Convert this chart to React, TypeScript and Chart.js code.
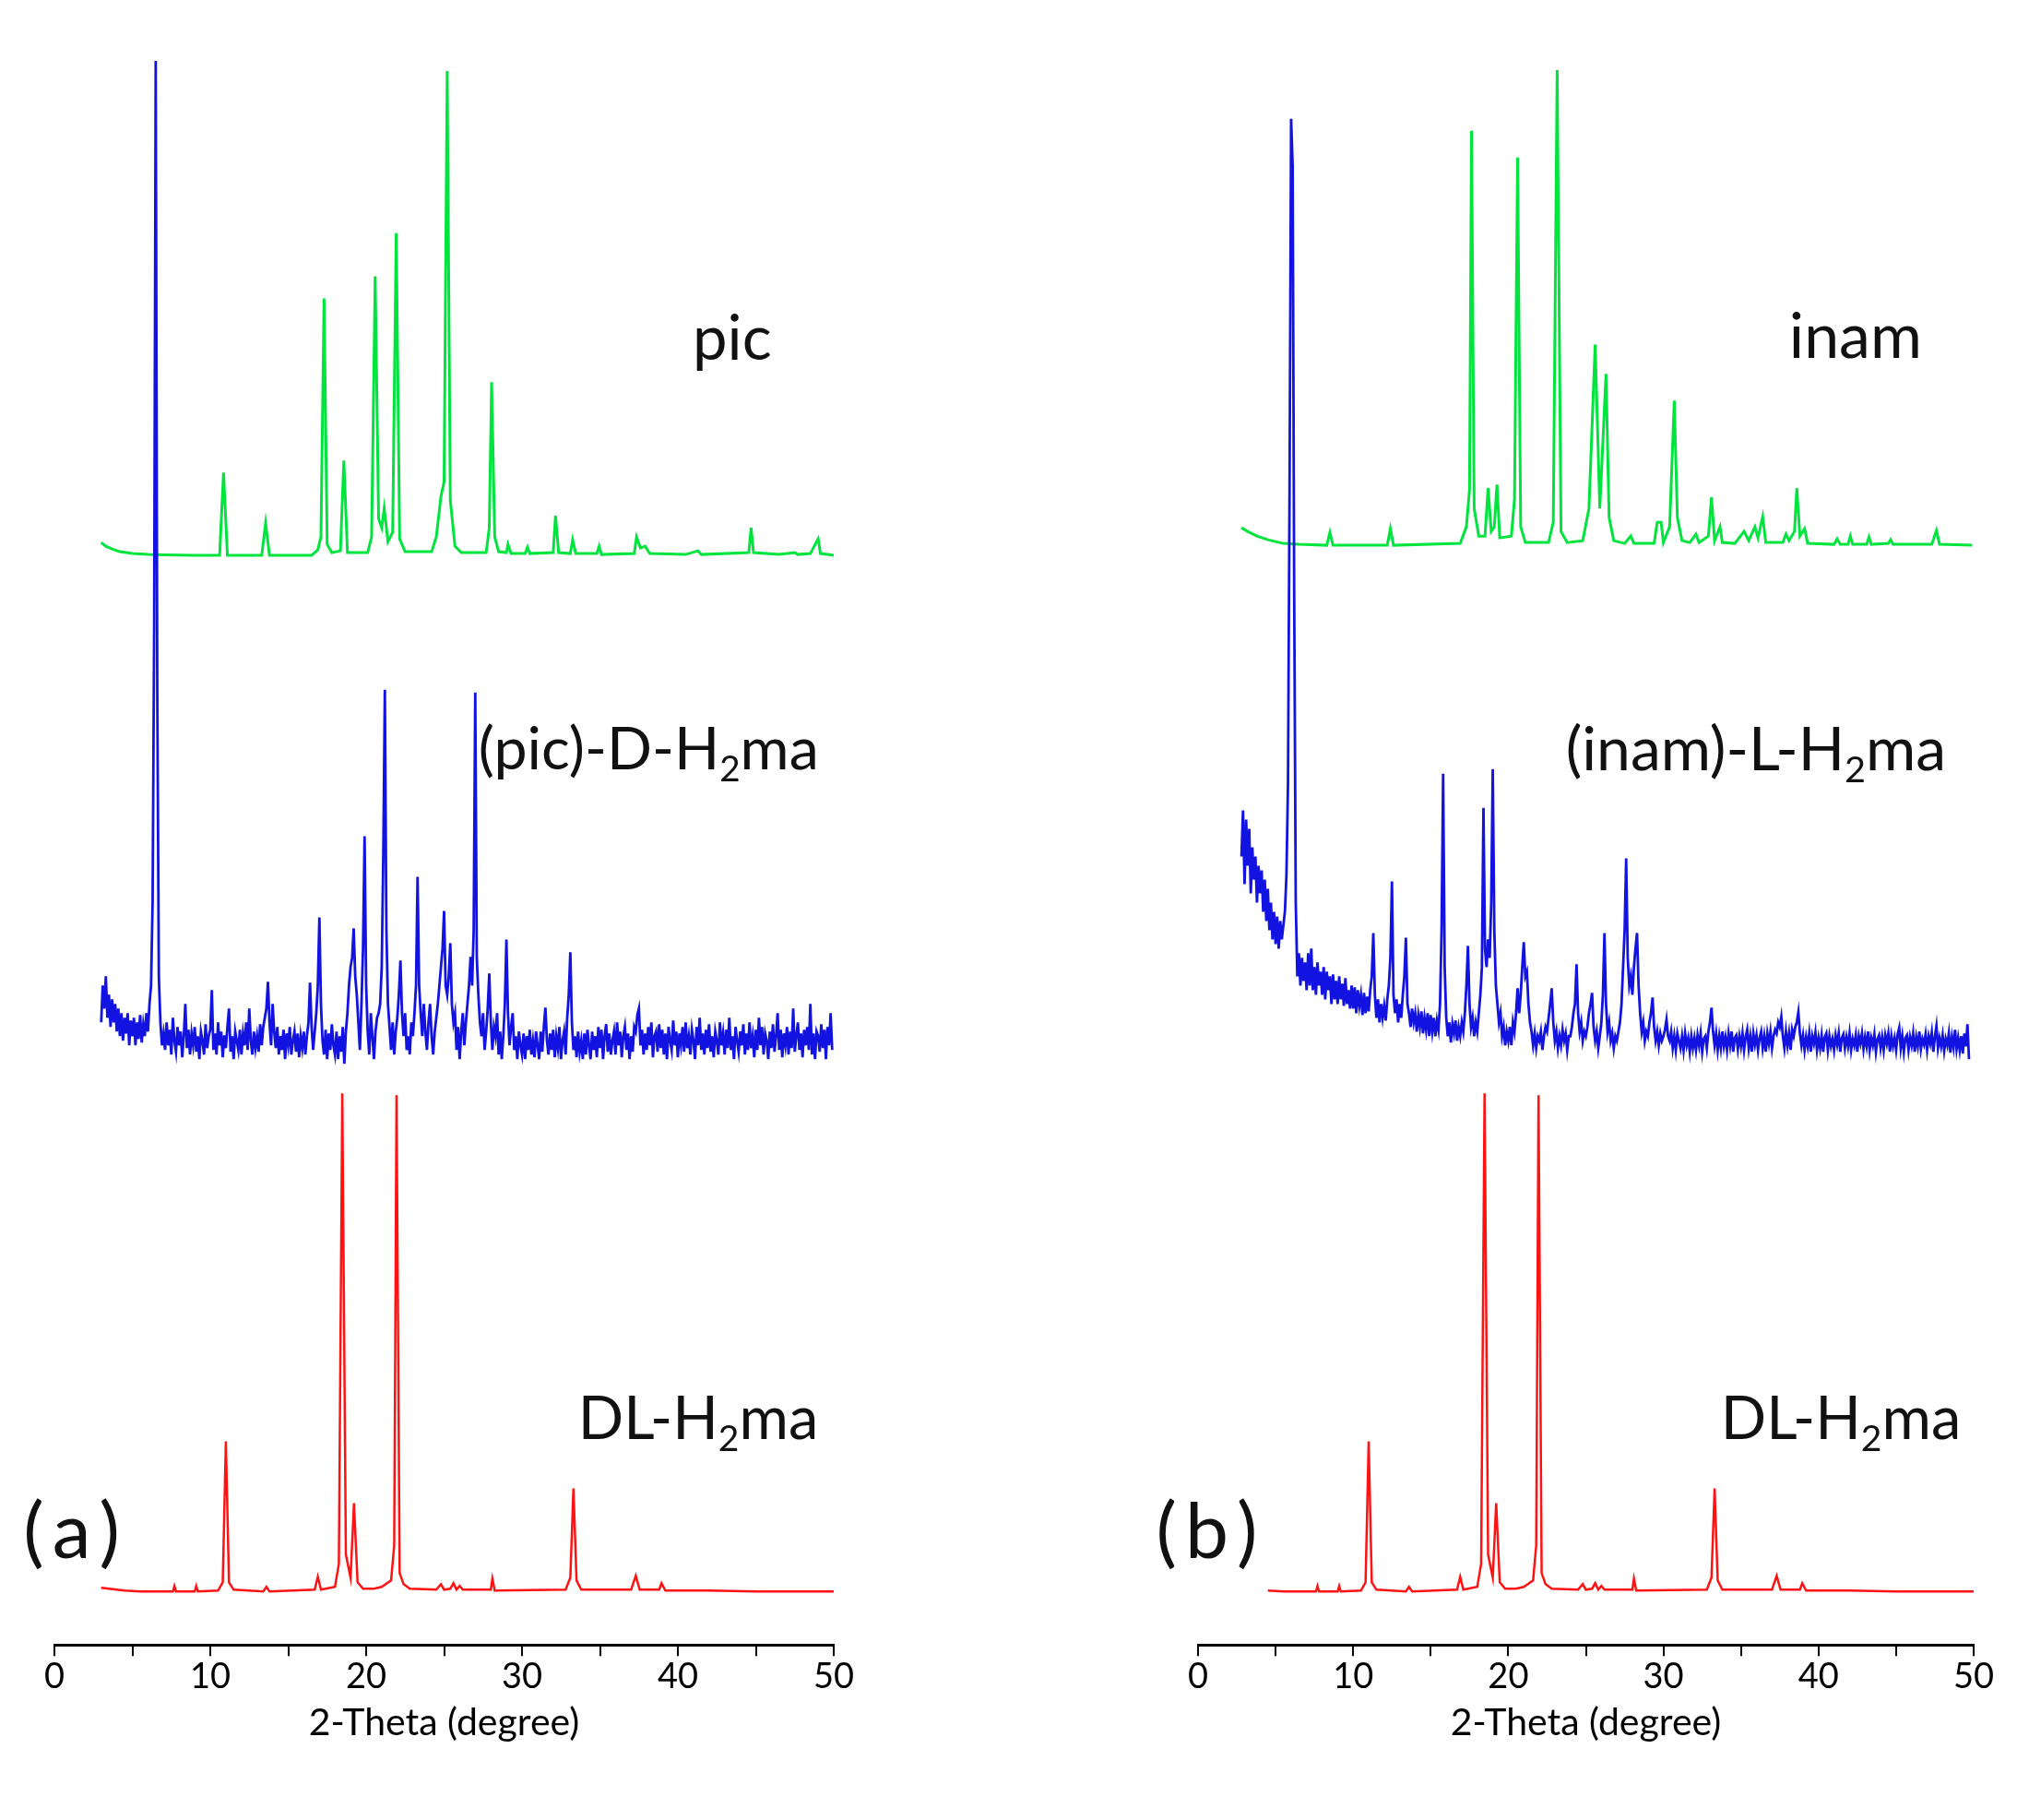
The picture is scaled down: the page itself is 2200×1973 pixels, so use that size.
import React, { useEffect, useRef } from 'react';
import { Chart, registerables } from 'chart.js';
Chart.register(...registerables);

// ---------- axis ----------
const X_MIN = 0;
const X_MAX = 50;
const X_TICK_STEP = 5;
const X_TITLE = '2-Theta (degree)';
const Y_MAX = 1746;

// ---------- panel (a) : pic (green), relative intensity [2theta, I] ----------
const PIC: [number, number][] = [
  [3.0, 14], [3.3, 10], [3.7, 7], [4.2, 4], [5.0, 2], [6.0, 1], [7.0, 0.5], [9.0, 0],
  [10.6, 0], [10.85, 90], [11.1, 0], [13.3, 0], [13.55, 35], [13.8, 0],
  [16.5, 0], [16.9, 6], [17.1, 20], [17.3, 279], [17.5, 12], [17.8, 3],
  [18.35, 5], [18.57, 103], [18.8, 3], [20.1, 3], [20.35, 20], [20.58, 303], [20.8, 40],
  [21.0, 30], [21.16, 51], [21.4, 15], [21.7, 25], [21.93, 350], [22.15, 18], [22.5, 4],
  [24.2, 4], [24.5, 20], [24.8, 64], [25.0, 80], [25.2, 526], [25.4, 60], [25.7, 10], [26.1, 3],
  [27.7, 3], [27.9, 30], [28.05, 188], [28.25, 20], [28.5, 4], [29.0, 3], [29.1, 12], [29.3, 2],
  [30.2, 2], [30.35, 9], [30.5, 2], [32.0, 3], [32.15, 43], [32.35, 3], [33.1, 2], [33.25, 17],
  [33.45, 2], [34.8, 2], [34.95, 10], [35.1, 1], [37.2, 2], [37.35, 20], [37.6, 8], [37.9, 10],
  [38.2, 2], [40.5, 1], [41.3, 5], [41.5, 1], [44.55, 3], [44.7, 30], [44.85, 3], [46.5, 1],
  [47.5, 3], [47.7, 1], [48.5, 2], [49.0, 18], [49.15, 2], [49.6, 1], [50.0, 0],
];

// ---------- DL-H2ma (red), same in both panels ----------
const DL_H2MA: [number, number][] = [
  [3.0, 4], [3.5, 3], [4.5, 1], [5.5, 0], [7.6, 0], [7.7, 6], [7.8, 0], [9.0, 0], [9.1, 6],
  [9.2, 0], [10.5, 1], [10.8, 10], [11.0, 163], [11.2, 10], [11.5, 2], [13.4, 0], [13.6, 5],
  [13.8, 0], [16.7, 2], [16.9, 16], [17.1, 2], [18.0, 5], [18.25, 30], [18.47, 541], [18.7, 40],
  [19.0, 15], [19.22, 96], [19.45, 10], [19.8, 3], [20.5, 3], [21.0, 5], [21.6, 12], [21.8, 50],
  [21.95, 539], [22.15, 20], [22.4, 8], [22.8, 3], [24.5, 2], [24.8, 8], [25.0, 2], [25.4, 3],
  [25.6, 9], [25.8, 2], [26.0, 6], [26.2, 2], [28.0, 2], [28.1, 14], [28.25, 1], [32.8, 2],
  [33.1, 15], [33.3, 112], [33.5, 12], [33.8, 2], [37.0, 2], [37.3, 17], [37.55, 2], [38.8, 2],
  [38.95, 9], [39.2, 1], [42.0, 1], [45.0, 0], [50.0, 0],
];
const DL_H2MA_START_B = 4.4;

// ---------- (pic)-D-H2ma (blue), 0.1 deg steps from 3.0 ----------
const GRID_STEP = 0.1;
const PIC_D_H2MA_START = 3.0;
const PIC_D_H2MA: number[] = [
  20, 60, 35, 70, 25, 50, 15, 45, 20, 40,
  10, 35, 5, 30, 0, 25, 8, 30, -5, 22,
  5, 25, -5, 20, 2, 28, -2, 18, 5, 30,
  10, 40, 60, 150, 450, 1064, 380, 70, 20, -5,
  8, -10, 20, -5, 12, -15, 25, 0, -12, 15,
  -5, 10, -18, 5, 40, -8, 12, -15, 8, -5,
  15, -12, 5, -20, 10, 0, -15, 18, -8, 5,
  12, 55, -10, 8, -15, 20, -5, 10, -18, 6,
  -8, 15, 35, -12, 5, -20, 10, 0, -10, 12,
  -15, 8, -5, 20, -10, 35, 0, -15, 10, -8,
  5, -12, 18, -5, 15, 25, 35, 64, 20, -5,
  40, 10, -8, 15, -15, 5, -10, 12, -20, 8,
  -5, 15, -15, 0, 10, -12, 8, -18, 5, -8,
  10, -15, 5, 20, 63, 15, -10, 10, 30, 60,
  134, 40, 0, -15, 12, -20, 8, -10, 18, -5,
  -15, 10, -20, 5, -12, 15, -25, 10, 30, 60,
  80, 90, 122, 70, 50, 20, -10, 40, 100, 222,
  60, 10, -15, 30, 5, -20, 10, 25, 30, 40,
  80, 200, 381, 120, 40, 15, -10, 20, -15, 10,
  25, 50, 87, 30, 5, 30, -10, 5, -15, 20,
  5, 30, 60, 178, 60, 30, 5, 40, 10, -10,
  20, 40, 5, -15, 10, 25, 40, 60, 80, 100,
  141, 60, 50, 70, 106, 40, 20, 30, -10, 15,
  -20, 10, 30, -5, 20, 40, 60, 91, 60, 120,
  378, 90, 50, 20, 5, 30, -10, 10, 35, 73,
  20, -10, 15, 5, 30, -15, 10, -20, 5, 40,
  110, 30, -5, 15, 30, -10, 5, -20, 10, -5,
  -15, 8, -20, 5, -10, 12, -15, 0, -18, 10,
  -5, -20, 10, -12, 15, 36, 0, -15, 8, -10,
  12, -18, 5, -8, 15, -20, 0, 10, -15, 25,
  50, 96, 20, -10, 5, -18, 10, -12, 0, -20,
  8, -15, 12, -5, -20, 10, -10, 5, -18, 15,
  -8, 12, -20, 5, 18, -12, 8, -15, 0, 10,
  -15, 20, -5, 10, -18, 5, 15, -10, 8, -20,
  5, -12, 15, 10, 28, 35, -5, 12, -15, 8,
  -10, 15, -5, 20, -18, 5, 10, -12, 18, -8,
  12, -15, 8, -20, 15, 0, -10, 22, -5, 10,
  -18, 8, -5, 15, -12, 20, -8, 5, -15, 12,
  0, -20, 15, -5, 25, -10, 8, -15, 12, -8,
  18, -12, 5, -18, 10, 0, -15, 20, -5, 8,
  -15, 12, -8, 25, -10, 5, -20, 15, 0, -12,
  10, -5, 18, -15, 8, -10, 20, -8, 5, -18,
  12, -10, 25, -5, 15, -15, 8, 0, -20, 10,
  -8, 18, -12, 5, 30, -10, 12, -18, 8, -5,
  15, -15, 10, -8, 35, -12, 5, 20, -10, 8,
  -18, 12, -5, 15, -10, 40, -15, 8, -20, 10,
  5, -12, 18, -8, 12, -20, 15, -5, 30, -10,
];

// ---------- panel (b) : inam (green) ----------
const INAM: [number, number][] = [
  [2.8, 19], [3.2, 15], [3.8, 10], [4.5, 6], [5.5, 2], [6.5, 1], [8.3, 0], [8.5, 14], [8.7, 0],
  [12.2, 0], [12.4, 18], [12.6, 0], [16.9, 2], [17.3, 20], [17.5, 60], [17.63, 450], [17.8, 40],
  [18.1, 10], [18.5, 10], [18.7, 62], [18.9, 15], [19.1, 20], [19.27, 66], [19.45, 8], [20.2, 10],
  [20.4, 50], [20.6, 421], [20.8, 20], [21.1, 3], [22.6, 3], [22.9, 25], [23.15, 516], [23.4, 15],
  [23.8, 3], [24.8, 5], [25.2, 40], [25.6, 218], [25.9, 40], [26.3, 186], [26.5, 30], [26.8, 5],
  [27.5, 2], [27.9, 10], [28.1, 2], [29.4, 2], [29.6, 25], [29.85, 25], [30.0, 3], [30.4, 20],
  [30.7, 157], [30.9, 30], [31.2, 5], [31.7, 3], [32.1, 12], [32.3, 3], [32.9, 10], [33.1, 52],
  [33.3, 5], [33.65, 20], [33.8, 3], [34.6, 2], [35.2, 15], [35.5, 5], [35.9, 20], [36.1, 8],
  [36.4, 31], [36.6, 3], [37.7, 3], [37.9, 12], [38.1, 5], [38.45, 15], [38.6, 62], [38.8, 10],
  [39.1, 18], [39.3, 2], [41.0, 1], [41.2, 7], [41.4, 1], [41.9, 1], [42.05, 10], [42.2, 1],
  [43.1, 1], [43.25, 9], [43.4, 1], [44.5, 2], [44.65, 6], [44.8, 1], [47.3, 1], [47.6, 16],
  [47.8, 1], [49.9, 0],
];

// ---------- (inam)-L-H2ma (blue), 0.1 deg steps from 2.8 ----------
const INAM_L_H2MA_START = 2.8;
const INAM_L_H2MA: number[] = [
  200, 250,
  170, 240, 190, 230, 160, 210, 175, 200, 150, 190,
  160, 185, 140, 175, 130, 165, 120, 150, 110, 140,
  105, 135, 100, 130, 110, 125, 140, 180, 280, 600,
  1001, 950, 480, 150, 70, 95, 60, 90, 65, 85,
  55, 95, 60, 100, 55, 80, 50, 85, 60, 75,
  50, 80, 45, 75, 55, 70, 40, 72, 45, 65,
  40, 70, 45, 62, 38, 68, 40, 55, 35, 60,
  35, 58, 30, 55, 38, 50, 28, 52, 30, 48,
  32, 55, 70, 117, 50, 25, 45, 20, 40, 25,
  38, 22, 45, 60, 90, 173, 50, 30, 45, 20,
  40, 25, 50, 70, 112, 40, 30, 15, 35, 20,
  30, 10, 28, 15, 32, 8, 25, 12, 30, 5,
  28, 10, 25, 5, 22, 12, 40, 120, 290, 80,
  25, 5, 20, -2, 18, 8, 22, 0, 15, 5,
  20, 10, 30, 60, 103, 40, 15, 25, 5, 20,
  10, 30, 50, 80, 253, 100, 80, 110, 90, 150,
  295, 120, 60, 40, 20, 30, 5, 15, -5, 10,
  0, 15, -5, 20, 10, 30, 57, 30, 50, 80,
  107, 70, 75, 40, 20, 10, -5, 8, -8, 5,
  0, 10, -10, 5, 15, 10, 25, 40, 57, 20,
  0, 10, -8, 5, -5, 12, 0, 8, -10, 5,
  5, 15, 30, 40, 83, 30, 10, 20, 0, 10,
  5, 15, 30, 40, 52, 15, 0, 10, -8, 5,
  20, 50, 117, 40, 10, 20, 0, 8, -8, 5,
  0, 10, 20, 40, 80, 120, 198, 90, 60, 70,
  50, 80, 100, 117, 60, 30, 10, 20, 0, 10,
  5, 20, 30, 47, 15, 0, 10, -5, 8, 0,
  5, 12, 23, 5, 0, 10, -8, 5, -10, 8,
  0, -8, 5, -10, 8, -5, 3, -12, 5, -8,
  3, -10, 6, -5, 8, -12, 2, 5, -8, 10,
  20, 36, 10, -5, 8, -10, 5, -8, 10, -6,
  4, -10, 8, -5, 10, -12, 3, 6, -9, 5,
  -6, 8, -10, 4, 12, -8, 5, -12, 8, -4,
  6, -10, 3, 10, -8, 5, -12, 8, -3, 10,
  -8, 5, 12, 8, 20, 15, 26, 5, -8, 10,
  -5, 8, -10, 12, 5, 15, 20, 31, 8, -5,
  6, -10, 4, -6, 8, -12, 5, -3, 9, -10,
  3, -8, 6, -12, 4, 8, -10, 5, -6, 2,
  -10, 6, -4, 8, -12, 3, 7, -8, 4, -6,
  8, -10, 2, -5, 6, -12, 5, -3, 8, -9,
  4, -6, 10, -10, 3, -5, 7, -12, 2, 6,
  -8, 4, -10, 6, -3, 8, -12, 5, -6, 3,
  -10, 7, 14, -8, 5, -12, 3, 6, -10, 4,
  -5, 8, -12, 4, -6, 10, -9, 2, -4, 7,
  -10, 5, -3, 9, -12, 4, 16, -8, 3, -6,
  6, -11, 2, -5, 8, -13, 4, -7, 12, -9,
  3, -10, 5, -14, 8, -6, 18, -20,
];

// ---------- stacking offsets ----------
const OFFSET_RED = 58;
const OFFSET_BLUE = 656;
const OFFSET_GREEN_A = 1183;
const OFFSET_GREEN_B = 1194;

const GREEN = 'rgb(0, 228, 62)';
const BLUE = 'rgb(18, 18, 225)';
const RED = 'rgb(255, 18, 18)';
const FONT = 'Lato, "Open Sans", sans-serif';

type Part = [string, boolean];
type Label = { parts: Part[]; x: number; y: number; size: number; spacing?: number };

const LABELS_A: Label[] = [
  { parts: [['pic', false]], x: 40.95, y: 1395, size: 67 },
  { parts: [['(pic)-D-H', false], ['2', true], ['ma', false]], x: 27.2, y: 951, size: 64.5 },
  { parts: [['DL-H', false], ['2', true], ['ma', false]], x: 33.6, y: 224, size: 65 },
  { parts: [['(a)', false]], x: -2.0, y: 94, size: 84, spacing: 9 },
];
const LABELS_B: Label[] = [
  { parts: [['inam', false]], x: 38.1, y: 1397, size: 68 },
  { parts: [['(inam)-L-H', false], ['2', true], ['ma', false]], x: 23.7, y: 950, size: 66 },
  { parts: [['DL-H', false], ['2', true], ['ma', false]], x: 33.7, y: 224, size: 65 },
  { parts: [['(b)', false]], x: -2.7, y: 94, size: 84, spacing: 9 },
];

const pairs = (arr: [number, number][], off: number) => arr.map(([x, y]) => ({ x, y: y + off }));
const grid = (arr: number[], start: number, off: number) =>
  arr.map((y, i) => ({ x: Math.round((start + i * GRID_STEP) * 10) / 10, y: y + off }));

const labelPlugin = (labels: Label[]) => ({
  id: 'xrdLabels',
  afterDraw(chart: any) {
    const { ctx, scales } = chart;
    ctx.save();
    ctx.fillStyle = '#111';
    ctx.textAlign = 'left';
    ctx.textBaseline = 'alphabetic';
    for (const l of labels) {
      let px = scales.x.getPixelForValue(l.x);
      const py = scales.y.getPixelForValue(l.y);
      for (const [t, sub] of l.parts) {
        const s = sub ? l.size * 0.6 : l.size;
        ctx.font = `${s}px ${FONT}`;
        if (l.spacing) {
          for (const ch of t) {
            ctx.fillText(ch, px, py);
            px += ctx.measureText(ch).width + l.spacing;
          }
        } else {
          ctx.fillText(t, px, sub ? py + l.size * 0.2 : py);
          px += ctx.measureText(t).width;
        }
      }
    }
    ctx.restore();
  },
});

function makeConfig(datasets: any[], labels: Label[], padding: any) {
  return {
    type: 'line' as const,
    data: { datasets },
    options: {
      animation: false as const,
      responsive: false,
      devicePixelRatio: 1,
      layout: { padding },
      plugins: { legend: { display: false }, tooltip: { enabled: false } },
      elements: { point: { radius: 0 }, line: { tension: 0 } },
      scales: {
        x: {
          type: 'linear' as const,
          min: X_MIN,
          max: X_MAX,
          ticks: {
            stepSize: X_TICK_STEP,
            autoSkip: false,
            maxRotation: 0,
            padding: 0,
            color: '#000',
            font: { family: FONT, size: 38 },
            callback: (v: any) => (Number(v) % 10 === 0 ? String(v) : ''),
          },
          grid: { drawOnChartArea: false, drawTicks: true, tickLength: 12, color: '#000', lineWidth: 2 },
          border: { display: true, color: '#000', width: 3 },
          title: {
            display: true,
            text: X_TITLE,
            color: '#000',
            font: { family: FONT, size: 41 },
            padding: { top: 2, bottom: 4 },
          },
        },
        y: { type: 'linear' as const, min: 0, max: Y_MAX, display: false },
      },
    },
    plugins: [labelPlugin(labels)],
  };
}

function Panel({ cfg, left }: { cfg: () => any; left: number }) {
  const ref = useRef<HTMLCanvasElement>(null);
  useEffect(() => {
    if (!ref.current) return;
    const chart = new Chart(ref.current, cfg());
    return () => chart.destroy();
  }, []);
  return (
    <canvas
      ref={ref}
      width={1100}
      height={1973}
      style={{ position: 'absolute', left, top: 0, width: 1100, height: 1973 }}
    />
  );
}

const cfgA = () =>
  makeConfig(
    [
      { data: grid(PIC_D_H2MA, PIC_D_H2MA_START, OFFSET_BLUE), borderColor: BLUE, borderWidth: 2.8, order: 0 },
      { data: pairs(DL_H2MA, OFFSET_RED), borderColor: RED, borderWidth: 2.5, order: 1 },
      { data: pairs(PIC, OFFSET_GREEN_A), borderColor: GREEN, borderWidth: 3, order: 2 },
    ],
    LABELS_A,
    { left: 59, right: 196, top: 40, bottom: 77 }
  );

const cfgB = () =>
  makeConfig(
    [
      { data: grid(INAM_L_H2MA, INAM_L_H2MA_START, OFFSET_BLUE), borderColor: BLUE, borderWidth: 2.8, order: 0 },
      {
        data: pairs(DL_H2MA.filter(([x]) => x >= DL_H2MA_START_B), OFFSET_RED),
        borderColor: RED,
        borderWidth: 2.5,
        order: 1,
      },
      { data: pairs(INAM, OFFSET_GREEN_B), borderColor: GREEN, borderWidth: 3, order: 2 },
    ],
    LABELS_B,
    { left: 199, right: 60, top: 40, bottom: 77 }
  );

export default function App() {
  return (
    <div style={{ position: 'absolute', left: 0, top: 0, width: 2200, height: 1973, background: '#fff' }}>
      <Panel cfg={cfgA} left={0} />
      <Panel cfg={cfgB} left={1100} />
    </div>
  );
}
